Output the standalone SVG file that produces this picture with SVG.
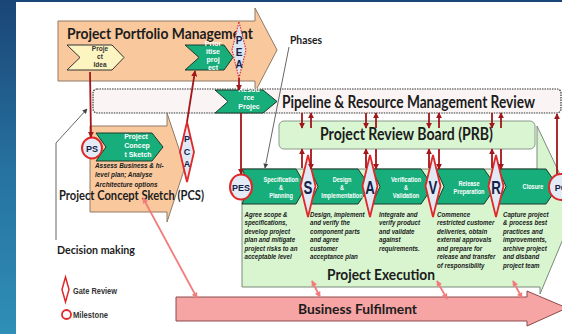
<svg xmlns="http://www.w3.org/2000/svg" width="562" height="334" viewBox="0 0 562 334">
<style>
.h{font-family:Lato,"Open Sans","Liberation Sans",sans-serif;font-weight:700;fill:#1c1c1c}
.w{font-family:"Liberation Sans",Arial,sans-serif;font-weight:700;fill:#fff;font-size:7px;text-anchor:middle}
.k{font-family:"Liberation Sans",Arial,sans-serif;font-weight:700;fill:#333;font-size:6.5px;text-anchor:middle}
.d{font-family:"Liberation Sans",Arial,sans-serif;font-weight:700;font-style:italic;fill:#1a1a1a;font-size:8px}
.lg{font-family:"Liberation Sans",Arial,sans-serif;font-weight:700;fill:#333;font-size:8.5px}
.orange{fill:#f9c89d;stroke:#8e7a66;stroke-width:1}
.chev{fill:#17ae7b;stroke:#1c3a2e;stroke-width:1}
.gate{fill:#e1e9f4;stroke:#e02828;stroke-width:1.8}
.ms{fill:#e3ebf6;stroke:#e02828;stroke-width:2}
.gl{font-family:"Liberation Sans",Arial,sans-serif;font-weight:700;fill:#14224a;text-anchor:middle}
.red{stroke:#a3161a;stroke-width:1.8;fill:none}
.pink{stroke:#f27c7c;stroke-width:1.8;fill:none}
.gray{stroke:#555;stroke-width:0.9;fill:none}
</style>
<defs>
<linearGradient id="bg" x1="0" y1="0" x2="0" y2="1">
<stop offset="0" stop-color="#1a4577"/>
<stop offset="0.5" stop-color="#26719f"/>
<stop offset="1" stop-color="#2f8fb6"/>
</linearGradient>
<marker id="ar" viewBox="0 0 8 8" refX="7" refY="4" markerWidth="6" markerHeight="6" markerUnits="userSpaceOnUse" orient="auto"><path d="M0,0L8,4L0,8z" fill="#a3161a"/></marker>
<marker id="ap" viewBox="0 0 8 8" refX="7" refY="4" markerWidth="6" markerHeight="6" markerUnits="userSpaceOnUse" orient="auto-start-reverse"><path d="M0,0L8,4L0,8z" fill="#f27c7c"/></marker>
<marker id="ag" viewBox="0 0 8 8" refX="7" refY="4" markerWidth="5" markerHeight="5" markerUnits="userSpaceOnUse" orient="auto"><path d="M0,0L8,4L0,8z" fill="#444"/></marker>
</defs>

<rect width="562" height="334" fill="url(#bg)"/>
<rect x="16" y="2" width="546" height="332" fill="#ffffff"/>

<g id="ppm">
<polygon class="orange" points="58,21 255,21 255,8 277,50 255,92 255,81 58,81"/>
<text class="h" x="67" y="39" font-size="15" textLength="186" lengthAdjust="spacingAndGlyphs">Project Portfolio Management</text>
</g>
<g id="project-idea">
<polygon points="67,45 112,45 124,57.5 112,70 67,70 80,57.5" fill="#fcf5c2" stroke="#333" stroke-width="1"/>
<text class="k" x="100" y="51">Proje</text>
<text class="k" x="100" y="59">ct</text>
<text class="k" x="100" y="67">Idea</text>
</g>
<g id="prioritise-project">
<polygon class="chev" points="185,45 224,45 233,57.5 224,70 185,70 199,57.5"/>
<text class="w" x="213" y="46">Prior</text>
<text class="w" x="213" y="54">itise</text>
<text class="w" x="213" y="62">proj</text>
<text class="w" x="213" y="70">ect</text>
</g>
<g id="pea">
<polygon points="239,22 246,50 239,78 232,50" fill="#dce6f2" stroke="#e03030" stroke-width="1.2" stroke-dasharray="1.5 1.2"/>
<text class="gl" x="239" y="44" font-size="10">P</text>
<text class="gl" x="239" y="56" font-size="10">E</text>
<text class="gl" x="239" y="68" font-size="10">A</text>
</g>

<g id="pipeline-review">
<rect x="93" y="89" width="468" height="24" rx="4" fill="#fbf4f4" stroke="#333" stroke-width="1.2" stroke-dasharray="1.5 1"/>
<text class="h" x="282" y="108" font-size="16.5" textLength="253" lengthAdjust="spacingAndGlyphs">Pipeline &amp; Resource Management Review</text>
</g>
<g id="resource-project">
<polygon class="chev" points="215,90 263,90 277,101.5 263,113 215,113 228,101.5"/>
<text class="w" x="249" y="92">Resou</text>
<text class="w" x="249" y="100">rce</text>
<text class="w" x="249" y="109">Projec</text>
</g>

<g id="pcs">
<polygon class="orange" points="90,126 167,126 167,113 185,167 167,222 167,212 90,212"/>
<text class="h" x="59" y="200" font-size="13" textLength="145" lengthAdjust="spacingAndGlyphs">Project Concept Sketch (PCS)</text>
</g>
<g id="pcs-chevron">
<polygon class="chev" points="96,133 152,133 163,147 152,161 96,161 106,147"/>
<text class="w" x="136" y="139">Project</text>
<text class="w" x="137" y="148">Concep</text>
<text class="w" x="138" y="157">t Sketch</text>
<g transform="translate(95 0) scale(0.8 1)">
<text class="d" y="168" font-size="9">Assess Business &amp; hi-</text>
<text class="d" y="177.5" font-size="9">level plan; Analyse</text>
<text class="d" y="187" font-size="9">Architecture options</text>
</g>
</g>
<g id="ps">
<ellipse class="ms" cx="92" cy="148" rx="10" ry="10.5"/>
<text class="gl" x="92" y="151.5" font-size="9">PS</text>
</g>
<g id="pca">
<polygon class="gate" points="187,122 194,152 187,182 180,152"/>
<text class="gl" x="187" y="142" font-size="9">P</text>
<text class="gl" x="187" y="155" font-size="9">C</text>
<text class="gl" x="187" y="167" font-size="9">A</text>
</g>

<g id="prb">
<rect x="279" y="121" width="256" height="28" rx="5" fill="#d9f5d2" stroke="#8a9a8a" stroke-width="1"/>
<text class="h" x="320" y="140" font-size="16.5" textLength="173" lengthAdjust="spacingAndGlyphs">Project Review Board (PRB)</text>
</g>

<g id="project-execution">
<polygon points="242,169 537,169 537,126 576,208 540,294 540,287 242,287" fill="#d8f5d0" stroke="#7a8a7a" stroke-width="1"/>
<text class="h" x="327" y="280" font-size="15.5" textLength="108" lengthAdjust="spacingAndGlyphs">Project Execution</text>
<g transform="translate(244.5 0) scale(0.77 1)">
<text class="d" y="217">Agree scope &amp;</text>
<text class="d" y="225.5">specifications,</text>
<text class="d" y="234">develop project</text>
<text class="d" y="242.5">plan and mitigate</text>
<text class="d" y="251">project risks to an</text>
<text class="d" y="259.5">acceptable level</text>
</g>
<g transform="translate(310 0) scale(0.77 1)">
<text class="d" y="217">Design, implement</text>
<text class="d" y="225.5">and verify the</text>
<text class="d" y="234">component parts</text>
<text class="d" y="242.5">and agree</text>
<text class="d" y="251">customer</text>
<text class="d" y="259.5">acceptance plan</text>
</g>
<g transform="translate(379 0) scale(0.77 1)">
<text class="d" y="217">Integrate and</text>
<text class="d" y="225.5">verify product</text>
<text class="d" y="234">and validate</text>
<text class="d" y="242.5">against</text>
<text class="d" y="251">requirements.</text>
</g>
<g transform="translate(437 0) scale(0.77 1)">
<text class="d" y="217">Commence</text>
<text class="d" y="225.5">restricted customer</text>
<text class="d" y="234">deliveries, obtain</text>
<text class="d" y="242.5">external approvals</text>
<text class="d" y="251">and prepare for</text>
<text class="d" y="259.5">release and transfer</text>
<text class="d" y="268">of responsibility</text>
</g>
<g transform="translate(503 0) scale(0.77 1)">
<text class="d" y="217">Capture project</text>
<text class="d" y="225.5">&amp; process best</text>
<text class="d" y="234">practices and</text>
<text class="d" y="242.5">improvements,</text>
<text class="d" y="251">archive project</text>
<text class="d" y="259.5">and disband</text>
<text class="d" y="268">project team</text>
</g>
</g>

<g id="chev-spec">
<polygon class="chev" points="242,169 296,169 306,186.5 296,204 242,204 250,186.5"/>
<text class="w" transform="translate(281 182) scale(0.8 1)">Specification</text>
<text class="w" transform="translate(281 189.5) scale(0.8 1)">&amp;</text>
<text class="w" transform="translate(281 198) scale(0.8 1)">Planning</text>
</g>
<g id="chev-design">
<polygon class="chev" points="310,169 358,169 370,186.5 358,204 310,204 318,186.5"/>
<text class="w" transform="translate(342 182) scale(0.8 1)">Design</text>
<text class="w" transform="translate(342 189.5) scale(0.8 1)">&amp;</text>
<text class="w" transform="translate(342 198) scale(0.8 1)">Implementation</text>
</g>
<g id="chev-verify">
<polygon class="chev" points="372,169 421,169 433,186.5 421,204 372,204 380,186.5"/>
<text class="w" transform="translate(406 182) scale(0.8 1)">Verification</text>
<text class="w" transform="translate(406 189.5) scale(0.8 1)">&amp;</text>
<text class="w" transform="translate(406 198) scale(0.8 1)">Validation</text>
</g>
<g id="chev-release">
<polygon class="chev" points="436,169 484,169 496,186.5 484,204 436,204 444,186.5"/>
<text class="w" transform="translate(469 186) scale(0.8 1)">Release</text>
<text class="w" transform="translate(469 193.5) scale(0.8 1)">Preparation</text>
</g>
<g id="chev-closure">
<polygon class="chev" points="498,169 546,169 558,186.5 546,204 498,204 506,186.5"/>
<text class="w" transform="translate(533 189) scale(0.8 1)">Closure</text>
</g>

<g id="gate-s">
<polygon class="gate" points="308,155 315.5,186 308,217 300.5,186"/>
<text class="gl" transform="translate(308 193.5) scale(0.7 1)" font-size="19">S</text>
</g>
<g id="gate-a">
<polygon class="gate" points="370,155 377.5,186 370,217 362.5,186"/>
<text class="gl" transform="translate(370 193.5) scale(0.7 1)" font-size="19">A</text>
</g>
<g id="gate-v">
<polygon class="gate" points="433,155 440.5,186 433,217 425.5,186"/>
<text class="gl" transform="translate(433 193.5) scale(0.7 1)" font-size="19">V</text>
</g>
<g id="gate-r">
<polygon class="gate" points="496,155 503.5,186 496,217 488.5,186"/>
<text class="gl" transform="translate(496 193.5) scale(0.7 1)" font-size="19">R</text>
</g>
<g id="pes">
<ellipse class="ms" cx="241" cy="187" rx="11" ry="12.5"/>
<text class="gl" x="241" y="190.5" font-size="9">PES</text>
</g>
<g id="pc">
<ellipse class="ms" cx="561" cy="187" rx="12" ry="13"/>
<text class="gl" x="561" y="190.5" font-size="9">PC</text>
</g>

<g id="business-fulfilment">
<polygon points="176,297 527,297 527,291 567,308 527,326 527,321 176,321" fill="#f6a4a4" stroke="#8a4a4a" stroke-width="1"/>
<text class="h" x="298" y="314" font-size="14" textLength="119" lengthAdjust="spacingAndGlyphs">Business Fulfilment</text>
</g>

<g id="labels">
<text class="h" x="290" y="44" font-size="10.5" textLength="32" lengthAdjust="spacingAndGlyphs">Phases</text>
<text class="h" x="57" y="254" font-size="12" textLength="78" lengthAdjust="spacingAndGlyphs">Decision making</text>
</g>
<g id="legend">
<polygon points="65.5,277 69,289.5 65.5,302 62,289.5" fill="#fff" stroke="#e02828" stroke-width="1.5"/>
<text class="lg" x="73" y="294" textLength="44" lengthAdjust="spacingAndGlyphs">Gate Review</text>
<circle cx="66.5" cy="314.5" r="4.5" fill="#fff" stroke="#e02828" stroke-width="1.8"/>
<text class="lg" x="73" y="318" textLength="35" lengthAdjust="spacingAndGlyphs">Milestone</text>
</g>

<g id="connectors">
<line class="red" x1="90" y1="72" x2="91" y2="137" marker-end="url(#ar)"/>
<line class="red" x1="187" y1="122" x2="195" y2="71" marker-end="url(#ar)"/>
<line class="red" x1="239" y1="78" x2="239" y2="90" marker-end="url(#ar)"/>
<line class="red" x1="241" y1="113" x2="241" y2="174" marker-end="url(#ar)"/>
<line class="red" x1="557" y1="174" x2="557" y2="114" marker-end="url(#ar)"/>
<line class="red" x1="302" y1="113" x2="302" y2="128" marker-end="url(#ar)"/>
<line class="red" x1="311" y1="128" x2="311" y2="113" marker-end="url(#ar)"/>
<line class="red" x1="302" y1="168" x2="302" y2="149" marker-end="url(#ar)"/>
<line class="red" x1="311" y1="149" x2="311" y2="169" marker-end="url(#ar)"/>
<line class="red" x1="366" y1="113" x2="366" y2="128" marker-end="url(#ar)"/>
<line class="red" x1="376" y1="128" x2="376" y2="113" marker-end="url(#ar)"/>
<line class="red" x1="366" y1="168" x2="366" y2="149" marker-end="url(#ar)"/>
<line class="red" x1="376" y1="149" x2="376" y2="169" marker-end="url(#ar)"/>
<line class="red" x1="429" y1="113" x2="429" y2="128" marker-end="url(#ar)"/>
<line class="red" x1="439" y1="128" x2="439" y2="113" marker-end="url(#ar)"/>
<line class="red" x1="429" y1="168" x2="429" y2="149" marker-end="url(#ar)"/>
<line class="red" x1="439" y1="149" x2="439" y2="169" marker-end="url(#ar)"/>
<line class="red" x1="492" y1="113" x2="492" y2="128" marker-end="url(#ar)"/>
<line class="red" x1="501" y1="128" x2="501" y2="113" marker-end="url(#ar)"/>
<line class="red" x1="492" y1="168" x2="492" y2="149" marker-end="url(#ar)"/>
<line class="red" x1="501" y1="149" x2="501" y2="169" marker-end="url(#ar)"/>
<line class="pink" x1="143" y1="198" x2="197" y2="298" marker-start="url(#ap)" marker-end="url(#ap)"/>
<line class="pink" x1="312" y1="281" x2="320" y2="297" marker-start="url(#ap)" marker-end="url(#ap)"/>
<line class="pink" x1="437" y1="281" x2="447" y2="299" marker-start="url(#ap)" marker-end="url(#ap)"/>
<line class="pink" x1="513" y1="281" x2="522" y2="298" marker-start="url(#ap)" marker-end="url(#ap)"/>
<polyline class="gray" points="56,240 56,143 87,109" marker-end="url(#ag)"/>
<line class="gray" x1="289" y1="47" x2="265" y2="168" marker-end="url(#ag)"/>
</g>
</svg>
